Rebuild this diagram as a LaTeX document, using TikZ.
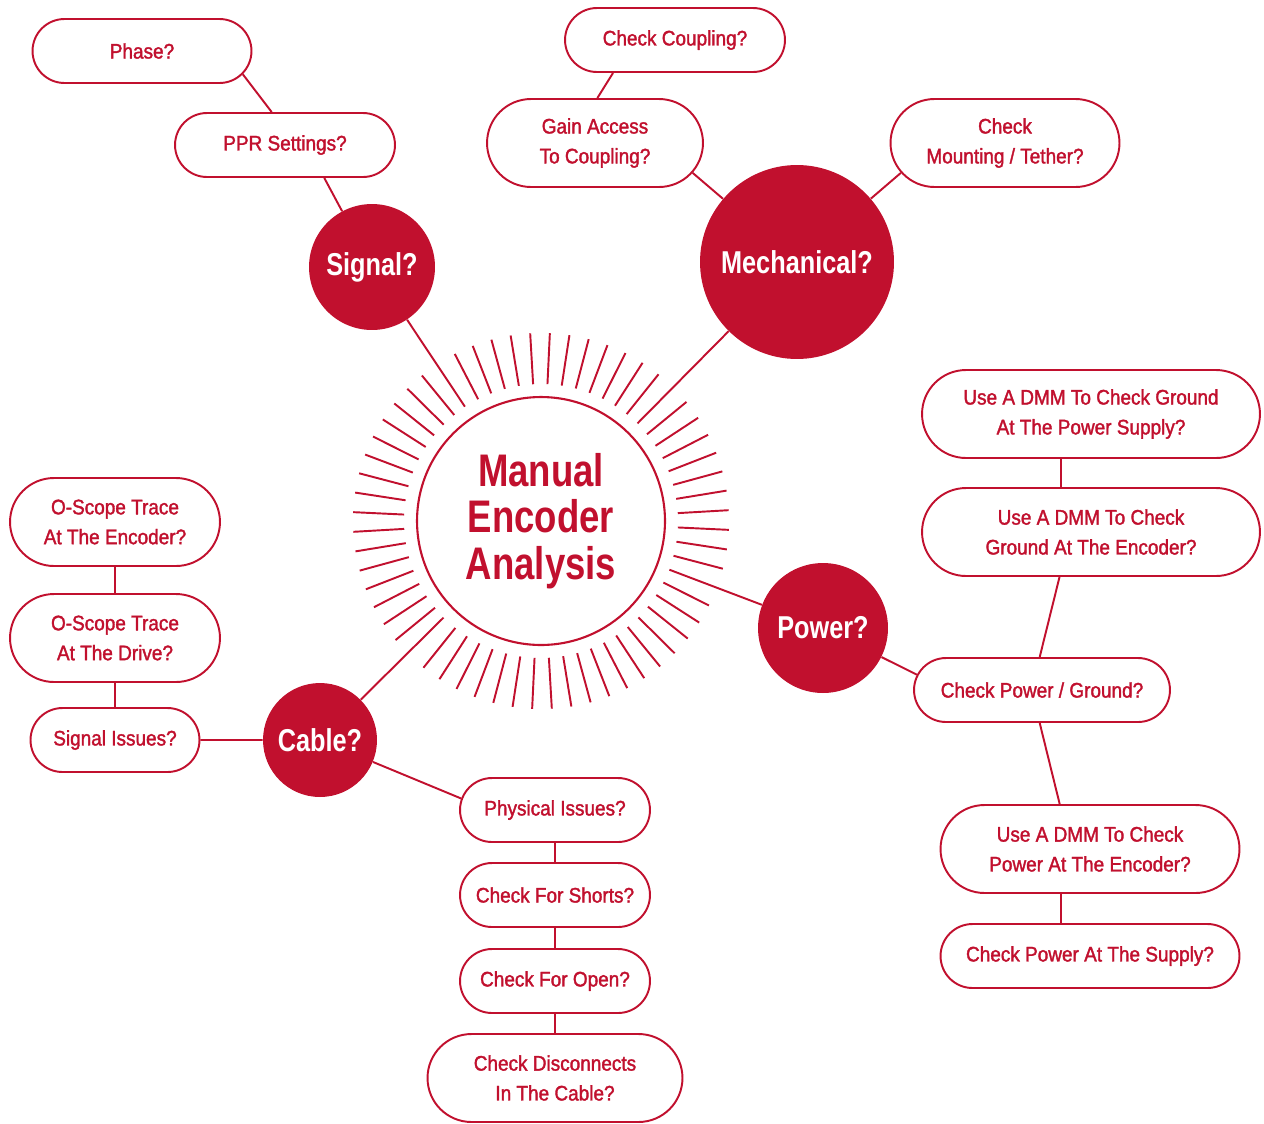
\documentclass[tikz,border=0pt]{standalone}
\usepackage{fontspec}
\newfontfamily\pillfont{Liberation Sans}[FakeStretch=0.9,FakeBold=1.6]
\newfontfamily\hubfont{Liberation Sans}[FakeStretch=0.8]
\usetikzlibrary{shapes.misc,calc}
\definecolor{encred}{RGB}{193,16,46}
\begin{document}
\begin{tikzpicture}[x=0.02cm,y=-0.02cm,line join=round,
  link/.style={draw=encred,line width=1.1pt},
  pill/.style={rounded rectangle,draw=encred,line width=1.1pt,fill=white,text=encred,align=center,inner sep=0pt,minimum height=1.28cm,font=\pillfont\fontsize{12}{17}\selectfont},
  tall/.style={pill,minimum height=1.76cm},
  hub/.style={circle,fill=encred,text=white,inner sep=0pt,font=\hubfont\bfseries\fontsize{18}{20}\selectfont}]
  \useasboundingbox (0,0) rectangle (1264,1123);
  \node[circle,draw=encred,line width=1.2pt,minimum size=4.96cm,text=encred,align=center,font=\hubfont\bfseries\fontsize{26}{26.5}\selectfont] (core) at (541,521) {Manual\\Encoder\\Analysis};
  \node[circle,minimum size=5.48cm] (ring) at (core) {};
  \foreach \k in {0,...,59}{
    \ifnum\k=0\else\ifnum\k=13\else\ifnum\k=30\else\ifnum\k=49\else
      \draw[encred,line width=1.1pt] ($(core)+({-45.3-6*\k}:137)$) -- ($(core)+({-45.3-6*\k}:188)$);
    \fi\fi\fi\fi}
  \node[hub,minimum size=2.52cm] (signal) at (372,267) {Signal?};
  \node[hub,minimum size=3.88cm] (mech) at (797,262) {Mechanical?};
  \node[hub,minimum size=2.6cm] (power) at (823,628) {Power?};
  \node[hub,minimum size=2.28cm] (cable) at (320,740) {Cable?};
  \node[pill,minimum width=4.38cm] (phase) at (142,51) {Phase?};
  \node[pill,minimum width=4.4cm] (ppr) at (285,145) {PPR Settings?};
  \node[pill,minimum width=4.4cm] (coupling) at (675,40) {Check Coupling?};
  \node[tall,minimum width=4.32cm] (gain) at (595,143) {Gain Access\\To Coupling?};
  \node[tall,minimum width=4.58cm] (mount) at (1005,143) {Check\\Mounting / Tether?};
  \node[tall,minimum width=6.76cm] (gndsup) at (1091,414) {Use A DMM To Check Ground\\At The Power Supply?};
  \node[tall,minimum width=6.76cm] (gndenc) at (1091,532) {Use A DMM To Check\\Ground At The Encoder?};
  \node[pill,minimum width=5.12cm] (pwrgnd) at (1042,690) {Check Power / Ground?};
  \node[tall,minimum width=5.98cm] (pwrenc) at (1090,849) {Use A DMM To Check\\Power At The Encoder?};
  \node[pill,minimum width=5.98cm] (pwrsup) at (1090,956) {Check Power At The Supply?};
  \node[tall,minimum width=4.2cm] (scopeenc) at (115,522) {O-Scope Trace\\At The Encoder?};
  \node[tall,minimum width=4.2cm] (scopedrv) at (115,638) {O-Scope Trace\\At The Drive?};
  \node[pill,minimum width=3.38cm] (sigiss) at (115,740) {Signal Issues?};
  \node[pill,minimum width=3.8cm] (phys) at (555,810) {Physical Issues?};
  \node[pill,minimum width=3.8cm] (shorts) at (555,895) {Check For Shorts?};
  \node[pill,minimum width=3.8cm] (open) at (555,981) {Check For Open?};
  \node[tall,minimum width=5.1cm] (disc) at (555,1078) {Check Disconnects\\In The Cable?};
  \foreach \h in {signal,mech,power,cable}
    \draw[link] (\h) -- (ring);
  \draw[link] (phase.-13) -- (ppr.112);
  \draw[link] (signal) -- (ppr.-40);
  \draw[link] (gain.87) -- (coupling.208);
  \draw[link] (mech) -- (gain.-17);
  \draw[link] (mech) -- (mount.196);
  \draw[link] ($(gndsup.south)+(-30,0)$) -- ($(gndenc.north)+(-30,0)$);
  \draw[link] (gndenc.-125) -- (pwrgnd.94);
  \draw[link] (power) -- (pwrgnd.173);
  \draw[link] (pwrgnd.-94) -- (pwrenc.124);
  \draw[link] ($(pwrenc.south)+(-29,0)$) -- ($(pwrsup.north)+(-29,0)$);
  \draw[link] (scopeenc) -- (scopedrv);
  \draw[link] (scopedrv) -- (sigiss);
  \draw[link] (sigiss) -- (cable);
  \draw[link] (cable) -- (phys.173);
  \draw[link] (phys) -- (shorts);
  \draw[link] (shorts) -- (open);
  \draw[link] (open) -- (disc);
\end{tikzpicture}
\end{document}
